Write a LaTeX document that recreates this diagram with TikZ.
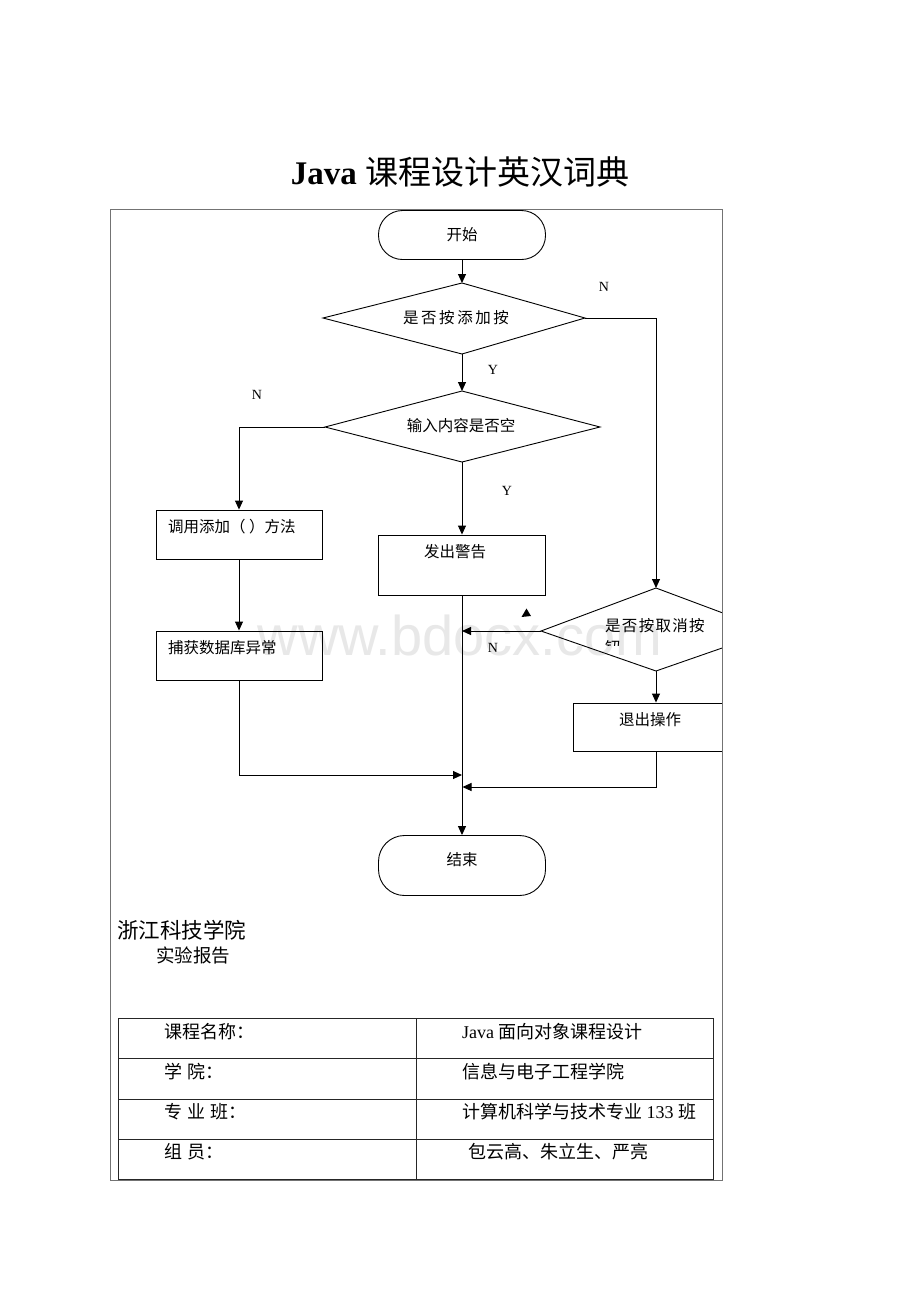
\documentclass[tikz,border=0pt]{standalone}
\usepackage{fontspec}
\setmainfont{Liberation Serif}
\newfontfamily\cjk{Noto Sans CJK SC}
\newfontfamily\wmfont{Liberation Sans}
\usetikzlibrary{arrows.meta}
\begin{document}
\begin{tikzpicture}[x=1pt,y=-1pt,
  ln/.style={line width=1pt,black},
  arr/.style={ln,-{Triangle[length=9pt,width=8pt]}},
  shp/.style={draw=black,line width=0.9pt},
  term/.style={shp,rounded corners=24pt,minimum width=167pt,inner sep=0pt},
  box/.style={shp,minimum width=166pt,inner sep=0pt},
  ft/.style={font=\cjk\fontsize{15.5}{18}\selectfont,inner sep=0pt},
  lab/.style={font=\fontsize{14}{16}\selectfont,inner sep=0pt},
  bt/.style={font=\cjk\fontsize{18}{21}\selectfont,inner sep=0pt,anchor=west},
]
\useasboundingbox (0,0) rectangle (920,1302);
\fill[white] (0,0) rectangle (920,1302);

% watermark
\node[font=\wmfont\fontsize{56}{60}\selectfont,text=black!9,inner sep=0pt] (wm) at (460,635) {www.bdocx.com};

% title
\node[font=\fontsize{33}{38}\selectfont,inner sep=0pt] (title) at (460,172) {\textbf{Java} {\cjk 课程设计英汉词典}};

% frame
\draw[line width=1pt,black!55] (110,209) rectangle (722,1180);

% terminals
\node[term,minimum height=49pt] (start) at (462,235) {};
\node[ft] (starttxt) at (462,235) {开始};
\node[term,minimum height=60pt,rounded corners=26pt] (en) at (462,865.5) {};
\node[ft] (entxt) at (462,860) {结束};

% diamond 1
\coordinate (d1t) at (462,283);
\coordinate (d1r) at (585,318);
\coordinate (d1b) at (462,354);
\coordinate (d1l) at (323,318);
\draw[shp] (d1t) -- (d1r) -- (d1b) -- (d1l) -- cycle;
\node[ft] (d1txt) at (456,318) {是\hspace{2.6pt}否\hspace{2.6pt}按\hspace{2.6pt}添\hspace{2.6pt}加\hspace{2.6pt}按};

% diamond 2
\coordinate (d2t) at (462,391);
\coordinate (d2r) at (600,427);
\coordinate (d2b) at (462,462);
\coordinate (d2l) at (325,427);
\draw[shp] (d2t) -- (d2r) -- (d2b) -- (d2l) -- cycle;
\node[ft] (d2txt) at (461,426) {输入内容是否空};

% boxes
\node[box,minimum height=49pt] (b1) at (239,534.5) {};
\node[ft,anchor=west] (b1txt) at (168,527) {调用添加（ ）方法};
\node[box,minimum width=167pt,minimum height=60pt] (b2) at (462,565) {};
\node[ft] (b2txt) at (455,552) {发出警告};
\node[box,minimum height=49pt] (b3) at (239,655.5) {};
\node[ft,anchor=west] (b3txt) at (168,648) {捕获数据库异常};

% diamond 3 and box 4, clipped by the frame
\coordinate (d3t) at (656,588);
\coordinate (d3l) at (541,631);
\coordinate (d3b) at (656,671);
\coordinate (d3r) at (771,631);
\begin{scope}
  \clip (110,209) rectangle (722,1180);
  \draw[shp] (d3t) -- (d3r) -- (d3b) -- (d3l) -- cycle;
  \node[ft,anchor=west] (d3txt) at (605,626) {是\hspace{1.3pt}否\hspace{1.3pt}按\hspace{1.3pt}取\hspace{1.3pt}消\hspace{1.3pt}按};
  \begin{scope}
    \clip (590,600) rectangle (722,645);
    \node[ft,anchor=west] (d3txt2) at (605,648) {钮};
  \end{scope}
  \node[box,minimum height=48pt] (b4) at (656,727) {};
  \node[ft] (b4txt) at (650,720) {退出操作};
\end{scope}
\draw[line width=1pt,black!55] (722,209) -- (722,1180);

% stray arrowhead
\fill (521.5,617) -- (526.5,608.5) -- (531,616) -- cycle;

% junction points
\coordinate (j1) at (462,631);
\coordinate (j2) at (462,775);
\coordinate (j3) at (462.5,787);

% connectors
\draw[arr] (start.south) -- (d1t);
\draw[arr] (d1b) -- (d2t);
\draw[arr] (d1r) -| (d3t);
\draw[arr] (d2l) -| (b1.north);
\draw[arr] (d2b) -- (b2.north);
\draw[arr] (b1.south) -- (b3.north);
\draw[arr] (b2.south) -- (en.north);
\draw[arr] (d3l) -- (j1);
\draw[arr] (d3b) -- (b4.north);
\draw[arr] (b3.south) |- (j2);
\draw[arr] (b4.south) |- (j3);

% labels
\node[lab] (n1) at (604,287) {N};
\node[lab] (y1) at (493,370) {Y};
\node[lab] (n2) at (257,395) {N};
\node[lab] (y2) at (507,491) {Y};
\node[lab] (n3) at (493,648) {N};

% lower part
\node[font=\cjk\fontsize{21.5}{24}\selectfont,inner sep=0pt,anchor=west] (school) at (117,930) {浙江科技学院};
\node[font=\cjk\fontsize{18.5}{21}\selectfont,inner sep=0pt,anchor=west] (report) at (156,955) {实验报告};

% table
\draw[line width=1pt,black!85] (118,1018) rectangle (713,1179);
\draw[line width=1pt,black!85] (118,1058) -- (713,1058)
  (118,1099) -- (713,1099)
  (118,1139) -- (713,1139)
  (416,1018) -- (416,1179);
\node[bt] (c11) at (164,1032) {课程名称：};
\node[bt] (c21) at (164,1072) {学\hspace{5pt}院：};
\node[bt] (c31) at (164,1112) {专\hspace{5pt}业\hspace{5pt}班：};
\node[bt] (c41) at (164,1152) {组\hspace{5pt}员：};
\node[bt] (c12) at (462,1032) {{\rmfamily Java }面向对象课程设计};
\node[bt] (c22) at (462,1072) {信息与电子工程学院};
\node[bt] (c32) at (462,1112) {计算机科学与技术专业{\rmfamily\ 133\ }班};
\node[bt] (c42) at (468,1152) {包云高、朱立生、严亮};
\end{tikzpicture}
\end{document}
